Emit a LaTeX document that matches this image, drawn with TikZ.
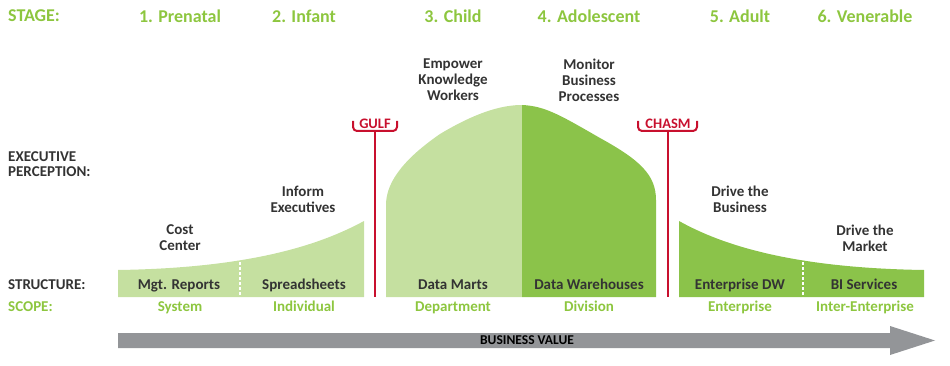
\documentclass[tikz,border=0pt]{standalone}
\usepackage{fontspec}
\setmainfont{Carlito}
\definecolor{stagegreen}{RGB}{141,198,63}
\definecolor{lightgreen}{RGB}{197,224,160}
\definecolor{darkgreen}{RGB}{139,195,74}
\definecolor{gapred}{RGB}{200,16,46}
\definecolor{valuegray}{RGB}{147,149,152}
\definecolor{labeltext}{RGB}{51,51,51}
\tikzset{
  stagelbl/.style={text=stagegreen, inner sep=0, font=\fontsize{18}{20}\selectfont\bfseries},
  rowlbl/.style={text=labeltext, inner sep=0, anchor=west, align=left, font=\fontsize{15}{15}\selectfont\bfseries},
  perclbl/.style={text=labeltext, inner sep=0, align=center, font=\fontsize{15}{16}\selectfont\bfseries},
  structlbl/.style={text=labeltext, inner sep=0, text height=9.7pt, text depth=0pt, font=\fontsize{15}{16}\selectfont\bfseries},
  scopelbl/.style={text=stagegreen, inner sep=0, text height=9.7pt, text depth=0pt, font=\fontsize{15}{16}\selectfont\bfseries},
  gapline/.style={draw=gapred, line width=2pt},
  gaplbl/.style={text=gapred, inner sep=0, font=\fontsize{14.5}{15}\selectfont\bfseries},
  divider/.style={draw=white, line width=1.6pt, dash pattern=on 3pt off 2pt}
}
\begin{document}
\begin{tikzpicture}[x=1pt,y=-1pt]
\useasboundingbox (0,0) rectangle (950,366);

% curves
\fill[lightgreen] (118,297) -- (118,270) .. controls (250,268) and (320,245) .. (364,221) -- (364,297) -- cycle;
\draw[divider] (240,262) -- (240,297);
\fill[lightgreen] (386,297) -- (386,205) .. controls (386,186) and (398,163) .. (440,134)
  .. controls (480,110) and (505,105) .. (522,105) -- (522,297) -- cycle;
\fill[darkgreen] (522,297) -- (522,105) .. controls (545,106) and (560,115) .. (600,138)
  .. controls (640,160) and (656,175) .. (656,200) -- (656,297) -- cycle;
\fill[darkgreen] (679,297) -- (679,221) .. controls (722,245) and (792,268) .. (924,270) -- (924,297) -- cycle;
\draw[divider] (803,262) -- (803,297);

% gulf and chasm
\draw[gapline, rounded corners=4pt] (353,121) -- (353,131) -- (397,131) -- (397,121);
\draw[gapline] (375,131) -- (375,297);
\node[gaplbl] (gulf) at (375,124) {GULF};
\draw[gapline, rounded corners=4pt] (638,121) -- (638,131) -- (697,131) -- (697,121);
\draw[gapline] (668,131) -- (668,297);
\node[gaplbl] (chasm) at (668,124) {CHASM};

% row titles
\node[rowlbl, text=stagegreen, font=\fontsize{18}{20}\selectfont\bfseries] (stage) at (8,16) {STAGE:};
\node[rowlbl] (perception) at (8,164.5) {EXECUTIVE\\PERCEPTION:};
\node[rowlbl] (structure) at (8,284.5) {STRUCTURE:};
\node[rowlbl, text=stagegreen] (scope) at (8,307) {SCOPE:};

% stages
\node[stagelbl] (prenatal) at (180,16) {1. Prenatal};
\node[stagelbl] (infant) at (304,16) {2. Infant};
\node[stagelbl] (child) at (453,16) {3. Child};
\node[stagelbl] (adolescent) at (589,16) {4. Adolescent};
\node[stagelbl] (adult) at (740,16) {5. Adult};
\node[stagelbl] (venerable) at (865,16) {6. Venerable};

% perception
\node[perclbl] (cost) at (180,238) {Cost\\Center};
\node[perclbl] (inform) at (303,199) {Inform\\Executives};
\node[perclbl] (empower) at (453,80) {Empower\\Knowledge\\Workers};
\node[perclbl] (monitor) at (589,80) {Monitor\\Business\\Processes};
\node[perclbl] (business) at (740,199) {Drive the\\Business};
\node[perclbl] (market) at (865,238) {Drive the\\Market};

% structure
\node[structlbl] (reports) at (179,285) {Mgt. Reports};
\node[structlbl] (sheets) at (304,285) {Spreadsheets};
\node[structlbl] (marts) at (453,285) {Data Marts};
\node[structlbl] (warehouses) at (589,285) {Data Warehouses};
\node[structlbl] (edw) at (740,285) {Enterprise DW};
\node[structlbl] (bi) at (864,285) {BI Services};

% scope
\node[scopelbl] (system) at (180,307) {System};
\node[scopelbl] (individual) at (304,307) {Individual};
\node[scopelbl] (department) at (453,307) {Department};
\node[scopelbl] (division) at (589,307) {Division};
\node[scopelbl] (enterprise) at (740,307) {Enterprise};
\node[scopelbl] (interent) at (865,307) {Inter-Enterprise};

% business value arrow
\fill[valuegray] (118,333) -- (890,333) -- (890,326) -- (935,340.5) -- (890,355) -- (890,348) -- (118,348) -- cycle;
\node[inner sep=0, text=black, font=\fontsize{13.5}{14}\selectfont\bfseries] (value) at (527,340.5) {BUSINESS VALUE};
\end{tikzpicture}
\end{document}
